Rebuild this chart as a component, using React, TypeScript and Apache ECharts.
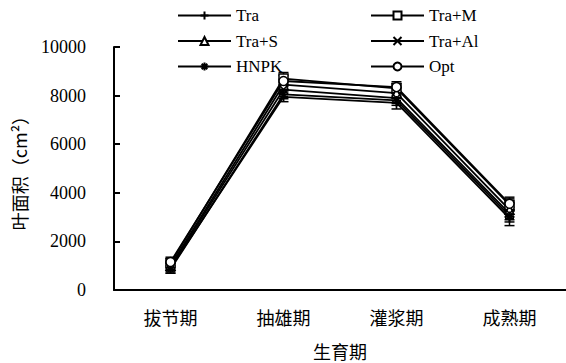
import React, { useEffect, useRef } from "react";
import * as echarts from "echarts";

const stages = ["拔节期", "抽雄期", "灌浆期", "成熟期"];
const yTicks = [0, 2000, 4000, 6000, 8000, 10000];

const seriesNames = ["Tra", "Tra+M", "Tra+S", "Tra+Al", "HNPK", "Opt"];
const traVals = [900, 7950, 7700, 2950];
const traMVals = [1100, 8700, 8300, 3500];
const traSVals = [1000, 8450, 8100, 3300];
const traAlVals = [950, 8250, 7900, 3150];
const hnpkVals = [850, 8050, 7800, 3050];
const optVals = [1150, 8600, 8350, 3550];

const traErr = [200, 200, 250, 300];
const traMErr = [200, 250, 200, 250];
const traSErr = [180, 220, 220, 280];
const traAlErr = [170, 200, 210, 260];
const hnpkErr = [160, 180, 200, 250];
const optErr = [200, 230, 220, 270];

const plusSym = "path://M0,5L10,5M5,0L5,10";
const crossSym = "path://M0,0L10,10M10,0L0,10";
const starSym = "path://M0,5L10,5M1.5,1.5L8.5,8.5M8.5,1.5L1.5,8.5M5,0L5,10";

const symbols = [plusSym, "rect", "triangle", crossSym, starSym, "circle"];
const valueSets = [traVals, traMVals, traSVals, traAlVals, hnpkVals, optVals];
const errSets = [traErr, traMErr, traSErr, traAlErr, hnpkErr, optErr];

export default function App() {
  const ref = useRef<HTMLDivElement>(null);

  useEffect(() => {
    if (!ref.current) return;
    const chart = echarts.init(ref.current, null, { renderer: "svg" });
    const serif = "Liberation Serif, DejaVu Serif, serif";
    const cjk = "Noto Sans CJK SC";

    const lineSeries = seriesNames.map((name, i) => ({
      name,
      type: "line",
      data: valueSets[i],
      symbol: symbols[i],
      symbolSize: 9,
      lineStyle: { color: "#000", width: 1.8 },
      itemStyle: { color: "#fff", borderColor: "#000", borderWidth: 1.5 },
      z: 3,
    }));

    const errSeries = seriesNames.map((name, i) => ({
      name: name + "-err",
      type: "custom",
      data: valueSets[i].map((v, k) => [k, v - errSets[i][k], v + errSets[i][k]]),
      z: 2,
      renderItem: (params: any, api: any) => {
        const x = api.value(0);
        const lo = api.coord([x, api.value(1)]);
        const hi = api.coord([x, api.value(2)]);
        const w = 5;
        const st = { stroke: "#000", lineWidth: 1.5 };
        return {
          type: "group",
          children: [
            { type: "line", shape: { x1: lo[0], y1: lo[1], x2: hi[0], y2: hi[1] }, style: st },
            { type: "line", shape: { x1: lo[0] - w, y1: lo[1], x2: lo[0] + w, y2: lo[1] }, style: st },
            { type: "line", shape: { x1: hi[0] - w, y1: hi[1], x2: hi[0] + w, y2: hi[1] }, style: st },
          ],
        };
      },
    }));

    const legendCommon = {
      orient: "vertical",
      itemWidth: 53,
      itemHeight: 10,
      itemGap: 8.5,
      textStyle: { fontFamily: serif, fontSize: 17, color: "#000" },
      inactiveColor: "#000",
      selectedMode: false,
      padding: 0,
    };

    chart.setOption({
      animation: false,
      backgroundColor: "#fff",
      legend: [
        { ...legendCommon, left: 177, top: 7, data: ["Tra", "Tra+S", "HNPK"] },
        { ...legendCommon, left: 370, top: 7, data: ["Tra+M", "Tra+Al", "Opt"] },
      ],
      grid: { left: 114, right: 0, top: 47, bottom: 73, outerBoundsMode: "none", containLabel: false },
      xAxis: {
        type: "category",
        data: stages,
        boundaryGap: true,
        name: "生育期",
        nameLocation: "middle",
        nameGap: 52,
        nameTextStyle: { fontFamily: cjk, fontSize: 18, color: "#000" },
        axisLine: { lineStyle: { color: "#000", width: 2 } },
        axisTick: { inside: true, length: 6, lineStyle: { color: "#000", width: 2 } },
        axisLabel: { fontFamily: cjk, fontSize: 18, color: "#000", margin: 18 },
        splitLine: { show: false },
      },
      yAxis: {
        type: "value",
        min: yTicks[0],
        max: yTicks[yTicks.length - 1],
        interval: 2000,
        name: "叶面积（cm²）",
        nameLocation: "middle",
        nameGap: 86,
        nameRotate: 90,
        nameTextStyle: { fontFamily: cjk, fontSize: 18, color: "#000" },
        axisLine: { show: true, lineStyle: { color: "#000", width: 2 } },
        axisTick: { show: true, inside: true, length: 6, lineStyle: { color: "#000", width: 2 } },
        axisLabel: {
          fontFamily: serif,
          fontSize: 18,
          color: "#000",
          margin: 28,
          formatter: (v: number) => String(v),
        },
        splitLine: { show: false },
      },
      series: [...errSeries, ...lineSeries],
    });

    return () => chart.dispose();
  }, []);

  return (
    <div
      ref={ref}
      style={{ position: "fixed", left: 0, top: 0, width: 566, height: 363 }}
    />
  );
}
